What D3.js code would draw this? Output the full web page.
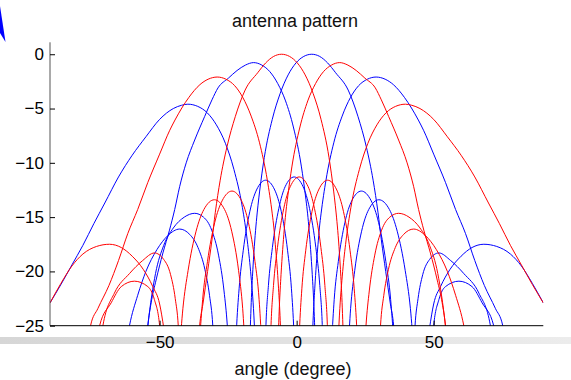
<!DOCTYPE html>
<html>
<head>
<meta charset="utf-8">
<script src="https://cdn.jsdelivr.net/npm/d3@7"></script>
<style>
  html, body { margin: 0; padding: 0; background: #fff; }
  svg { display: block; font-family: "Liberation Sans", Arial, sans-serif; }
</style>
</head>
<body>
<div id="chart"></div>
<script>
const xTicks = [-50, 0, 50]
const yTicks = [0, -5, -10, -15, -20, -25]

// main beams, [angle, dB]
const blueMain1 = [[-90,-22.9],[-86,-21.2],[-82,-19.4],[-78,-17.6],[-74,-15.6],[-70,-13.7],[-65,-11.3],[-60,-9.3],[-55,-7.6],[-50,-6.0],[-45,-5.0],[-42,-4.7],[-39.7,-4.6],[-36.1,-4.8],[-32.6,-5.4],[-29.3,-6.5],[-26,-8.2],[-22.9,-10.6],[-19.8,-14.1],[-18,-17.2],[-16.8,-20],[-15.6,-24.1],[-14.4,-31.3]]
const redMain1 = [[-76.5,-27],[-75.2,-25],[-72.5,-23.4],[-68.5,-21.3],[-65,-19],[-61.6,-16.5],[-58,-14.3],[-54.3,-11.8],[-50,-9.2],[-46.3,-7.0],[-44.4,-6.06],[-39.4,-4.0],[-35.3,-2.8],[-32.3,-2.3],[-29,-2.1],[-25.8,-2.3],[-22.6,-2.9],[-19.6,-4.0],[-16.6,-5.7],[-13.6,-8.1],[-10.7,-11.6],[-8.9,-14.7],[-8.3,-16.0],[-7.8,-17.5],[-7.2,-19.3],[-6.6,-21.6],[-6.0,-24.5],[-5.45,-28.8]]
const blueMain2 = [[-55,-27],[-54.3,-25],[-53.1,-22.9],[-51.3,-20.8],[-48.8,-18.3],[-46.4,-16.2],[-44.5,-14.3],[-42.7,-12.2],[-40.3,-10],[-37.2,-7.9],[-33.6,-5.75],[-30.9,-4.2],[-28.7,-3.1],[-24.9,-2.2],[-21.75,-1.5],[-18.7,-1.0],[-15.7,-0.77],[-12.7,-1.0],[-9.8,-1.6],[-6.9,-2.7],[-4.05,-4.3],[-1.2,-6.7],[1.7,-10.3],[3.4,-13.4],[4.0,-14.7],[4.55,-16.2],[5.1,-18.0],[5.7,-20.3],[6.3,-23.2],[6.9,-27.5]]
const redMain2 = [[-36,-27],[-35.4,-25],[-34.2,-23],[-32.5,-20],[-30.9,-17.1],[-29.7,-14.6],[-27.9,-11.6],[-25.4,-8.5],[-22.4,-5.75],[-18.8,-3.3],[-14.2,-1.7],[-11.3,-0.8],[-8.4,-0.2],[-5.5,0],[-2.6,-0.2],[0.24,-0.8],[3.1,-1.9],[6.0,-3.6],[8.9,-6.0],[11.8,-9.5],[13.5,-12.6],[14.1,-13.9],[14.7,-15.4],[15.3,-17.2],[15.9,-19.5],[16.5,-22.4],[17.1,-26.7]]
const blueMain3 = [[-17.1,-26.7],[-16.5,-22.4],[-15.9,-19.5],[-15.3,-17.2],[-14.7,-15.4],[-14.1,-13.9],[-13.5,-12.6],[-11.8,-9.5],[-8.9,-6.0],[-6.0,-3.6],[-3.1,-1.9],[-0.24,-0.8],[2.6,-0.2],[5.5,0],[8.4,-0.2],[11.3,-0.8],[14.2,-1.7],[18.8,-3.3],[22.4,-5.75],[25.4,-8.5],[27.9,-11.6],[29.7,-14.6],[30.9,-17.1],[32.5,-20],[34.2,-23],[35.4,-25],[36,-27]]
const redMain3 = [[-6.9,-27.5],[-6.3,-23.2],[-5.7,-20.3],[-5.1,-18.0],[-4.55,-16.2],[-4.0,-14.7],[-3.4,-13.4],[-1.7,-10.3],[1.2,-6.7],[4.05,-4.3],[6.9,-2.7],[9.8,-1.6],[12.7,-1.0],[15.7,-0.77],[18.7,-1.0],[21.75,-1.5],[24.9,-2.2],[28.7,-3.1],[30.9,-4.2],[33.6,-5.75],[37.2,-7.9],[40.3,-10],[42.7,-12.2],[44.5,-14.3],[46.4,-16.2],[48.8,-18.3],[51.3,-20.8],[53.1,-22.9],[54.3,-25],[55,-27]]
const blueMain4 = [[5.45,-28.8],[6.0,-24.5],[6.6,-21.6],[7.2,-19.3],[7.8,-17.5],[8.3,-16.0],[8.9,-14.7],[10.7,-11.6],[13.6,-8.1],[16.6,-5.7],[19.6,-4.0],[22.6,-2.9],[25.8,-2.3],[29,-2.1],[32.3,-2.3],[35.3,-2.8],[39.4,-4.0],[44.4,-6.06],[46.3,-7.0],[50,-9.2],[54.3,-11.8],[58,-14.3],[61.6,-16.5],[65,-19],[68.5,-21.3],[72.5,-23.4],[75.2,-25],[76.5,-27]]
const redMain4 = [[14.4,-31.3],[15.6,-24.1],[16.8,-20],[18,-17.2],[19.8,-14.1],[22.9,-10.6],[26,-8.2],[29.3,-6.5],[32.6,-5.4],[36.1,-4.8],[39.7,-4.6],[42,-4.7],[45,-5.0],[50,-6.0],[55,-7.6],[60,-9.3],[65,-11.3],[70,-13.7],[74,-15.6],[78,-17.6],[82,-19.4],[86,-21.2],[90,-22.9]]

// side lobes
const blueSideA = [[-63,-28],[-61,-25],[-58,-22.2],[-55,-20.0],[-51,-18.0],[-47,-16.7],[-42.7,-16.1],[-39,-16.6],[-36,-17.8],[-33.5,-19.8],[-31.8,-22.2],[-30.6,-25],[-30,-28]]
const blueSideB = [[-55.5,-28],[-54.3,-25],[-51.5,-20.2],[-48.5,-17.6],[-45,-16.0],[-41,-15.0],[-37.2,-14.65],[-34,-15.0],[-31,-16.2],[-28.5,-18.5],[-26.5,-21.8],[-25.3,-25],[-24.6,-28]]
const blueSideC = [[-23.3,-36],[-22.0,-25.6],[-21.0,-21.6],[-19.5,-18.1],[-17.1,-14.5],[-14.65,-12.5],[-11.3,-11.6],[-8.0,-12.5],[-5.6,-14.5],[-3.3,-18.1],[-1.9,-21.6],[-1.0,-25.6],[0.2,-36]]
const blueSideD = [[-12.2,-36],[-11.25,-25.3],[-10.3,-21.3],[-8.85,-17.8],[-6.5,-14.2],[-4.2,-12.2],[-0.9,-11.3],[2.35,-12.2],[4.7,-14.2],[7.0,-17.8],[8.45,-21.3],[9.4,-25.3],[10.4,-36]]
const blueSideE = [[12.0,-32],[12.8,-26.6],[13.7,-22.6],[15.2,-19.1],[17.6,-15.5],[20.1,-13.5],[23.6,-12.6],[27.2,-13.5],[29.9,-15.5],[32.55,-19.1],[34.3,-22.6],[35.4,-26.6],[36.3,-32]]
const blueSideF = [[17.9,-30],[18.7,-27.4],[19.7,-23.4],[21.2,-19.9],[23.7,-16.3],[26.3,-14.3],[30,-13.4],[33.85,-14.3],[36.7,-16.3],[39.6,-19.9],[41.5,-23.4],[42.8,-27.4],[43.7,-30]]
const blueSideG = [[42.6,-28],[43.2,-25],[44.3,-22.5],[46,-20.3],[48.5,-18.9],[51.9,-18.3],[56.2,-19.0],[61,-20.2],[66.5,-22.0],[70.7,-25],[72,-28]]
const blueSideH = [[49.3,-28],[50,-25],[51.9,-22.6],[54.3,-21.4],[59.2,-20.9],[64,-21.4],[67.7,-22.9],[71.9,-25],[73,-28]]
const blueSideI = [[47.5,-27],[48.5,-25.2],[50,-23],[52.5,-21.4],[56,-19.8],[60,-18.6],[64,-17.8],[68.3,-17.5],[73,-17.7],[78,-18.4],[82,-19.5],[86,-21.1],[90,-22.9]]

const redSideA = [[-90,-22.9],[-86,-21.1],[-82,-19.5],[-78,-18.4],[-73,-17.7],[-68.3,-17.5],[-64,-17.8],[-60,-18.6],[-56,-19.8],[-52.5,-21.4],[-50,-23],[-48.5,-25.2],[-47.5,-27]]
const redSideB = [[-73,-28],[-71.9,-25],[-67.7,-22.9],[-64,-21.4],[-59.2,-20.9],[-54.3,-21.4],[-51.9,-22.6],[-50,-25],[-49.3,-28]]
const redSideC = [[-72,-28],[-70.7,-25],[-66.5,-22.0],[-61,-20.2],[-56.2,-19.0],[-51.9,-18.3],[-48.5,-18.9],[-46,-20.3],[-44.3,-22.5],[-43.2,-25],[-42.6,-28]]
const redSideD = [[-43.7,-30],[-42.8,-27.4],[-41.5,-23.4],[-39.6,-19.9],[-36.7,-16.3],[-33.85,-14.3],[-30,-13.4],[-26.3,-14.3],[-23.7,-16.3],[-21.2,-19.9],[-19.7,-23.4],[-18.7,-27.4],[-17.9,-30]]
const redSideE = [[-36.3,-32],[-35.4,-26.6],[-34.3,-22.6],[-32.55,-19.1],[-29.9,-15.5],[-27.2,-13.5],[-23.6,-12.6],[-20.1,-13.5],[-17.6,-15.5],[-15.2,-19.1],[-13.7,-22.6],[-12.8,-26.6],[-12.0,-32]]
const redSideF = [[-10.4,-36],[-9.4,-25.3],[-8.45,-21.3],[-7.0,-17.8],[-4.7,-14.2],[-2.35,-12.2],[0.9,-11.3],[4.2,-12.2],[6.5,-14.2],[8.85,-17.8],[10.3,-21.3],[11.25,-25.3],[12.2,-36]]
const redSideG = [[-0.2,-36],[1.0,-25.6],[1.9,-21.6],[3.3,-18.1],[5.6,-14.5],[8.0,-12.5],[11.3,-11.6],[14.65,-12.5],[17.1,-14.5],[19.5,-18.1],[21.0,-21.6],[22.0,-25.6],[23.3,-36]]
const redSideH = [[24.6,-28],[25.3,-25],[26.5,-21.8],[28.5,-18.5],[31,-16.2],[34,-15.0],[37.2,-14.65],[41,-15.0],[45,-16.0],[48.5,-17.6],[51.5,-20.2],[54.3,-25],[55.5,-28]]
const redSideI = [[30,-28],[30.6,-25],[31.8,-22.2],[33.5,-19.8],[36,-17.8],[39,-16.6],[42.7,-16.1],[47,-16.7],[51,-18.0],[55,-20.0],[58,-22.2],[61,-25],[63,-28]]

const blueLobes = [blueMain1, blueMain2, blueMain3, blueMain4, blueSideA, blueSideB, blueSideC, blueSideD, blueSideE, blueSideF, blueSideG, blueSideH, blueSideI]
const redLobes = [redMain1, redMain2, redMain3, redMain4, redSideA, redSideB, redSideC, redSideD, redSideE, redSideF, redSideG, redSideH, redSideI]

const width = 571
const height = 380
const plotLeft = 50, plotRight = 543.3, plotTop = 42.3, plotBottom = 325.7

const svg = d3.select("#chart")
  .append("svg")
  .attr("width", width)
  .attr("height", height)

// grey strip under the axis (part of the screenshot)
const grad = svg.append("defs").append("linearGradient").attr("id", "strip")
grad.append("stop").attr("offset", "0%").attr("stop-color", "#d6d6d6")
grad.append("stop").attr("offset", "100%").attr("stop-color", "#ececec")
svg.append("rect")
  .attr("x", 0).attr("y", 337).attr("width", width).attr("height", 7)
  .attr("fill", "url(#strip)")

// blue corner mark
svg.append("path")
  .attr("d", "M0,6 L5.5,42 L0,33 Z")
  .attr("fill", "#0000ff")

const x = d3.scaleLinear().domain([-90, 90]).range([plotLeft, plotRight])
const y = d3.scaleLinear().domain([-25, 1.1]).range([plotBottom, plotTop])

svg.append("clipPath").attr("id", "plot")
  .append("rect")
  .attr("x", plotLeft).attr("y", plotTop)
  .attr("width", plotRight - plotLeft).attr("height", plotBottom - plotTop)

const line = d3.line()
  .x(d => x(d[0]))
  .y(d => y(d[1]))
  .curve(d3.curveMonotoneX)

const g = svg.append("g").attr("clip-path", "url(#plot)")

g.selectAll("path.blue")
  .data(blueLobes)
  .join("path")
  .attr("class", "blue")
  .attr("d", line)
  .attr("fill", "none")
  .attr("stroke", "#0000ff")
  .attr("stroke-width", 1)

g.selectAll("path.red")
  .data(redLobes)
  .join("path")
  .attr("class", "red")
  .attr("d", line)
  .attr("fill", "none")
  .attr("stroke", "#ff0000")
  .attr("stroke-width", 1)

// axes
const yAxis = svg.append("g")
  .attr("transform", `translate(${plotLeft},0)`)
  .call(d3.axisLeft(y).tickValues(yTicks).tickSize(-5).tickPadding(6).tickFormat(d3.format("d")))
yAxis.select(".domain").attr("stroke", "#555").attr("d", `M0,${plotTop}V${plotBottom}`)
yAxis.selectAll(".tick line").attr("stroke", "#000")

const xAxis = svg.append("g")
  .attr("transform", `translate(0,${plotBottom})`)
  .call(d3.axisBottom(x).tickValues(xTicks).tickSize(-5).tickPadding(10).tickFormat(d3.format("d")))
xAxis.select(".domain").attr("stroke", "#000").attr("d", `M${plotLeft},0H${plotRight}`)

svg.selectAll(".tick text")
  .attr("font-size", 17)
  .attr("font-family", "Liberation Sans, Arial, sans-serif")
  .attr("fill", "#000")

svg.append("text")
  .attr("x", 295).attr("y", 27)
  .attr("text-anchor", "middle")
  .attr("font-size", 18)
  .attr("fill", "#111")
  .text("antenna pattern")

svg.append("text")
  .attr("x", 293).attr("y", 375)
  .attr("text-anchor", "middle")
  .attr("font-size", 18)
  .attr("fill", "#111")
  .text("angle (degree)")
</script>
</body>
</html>
